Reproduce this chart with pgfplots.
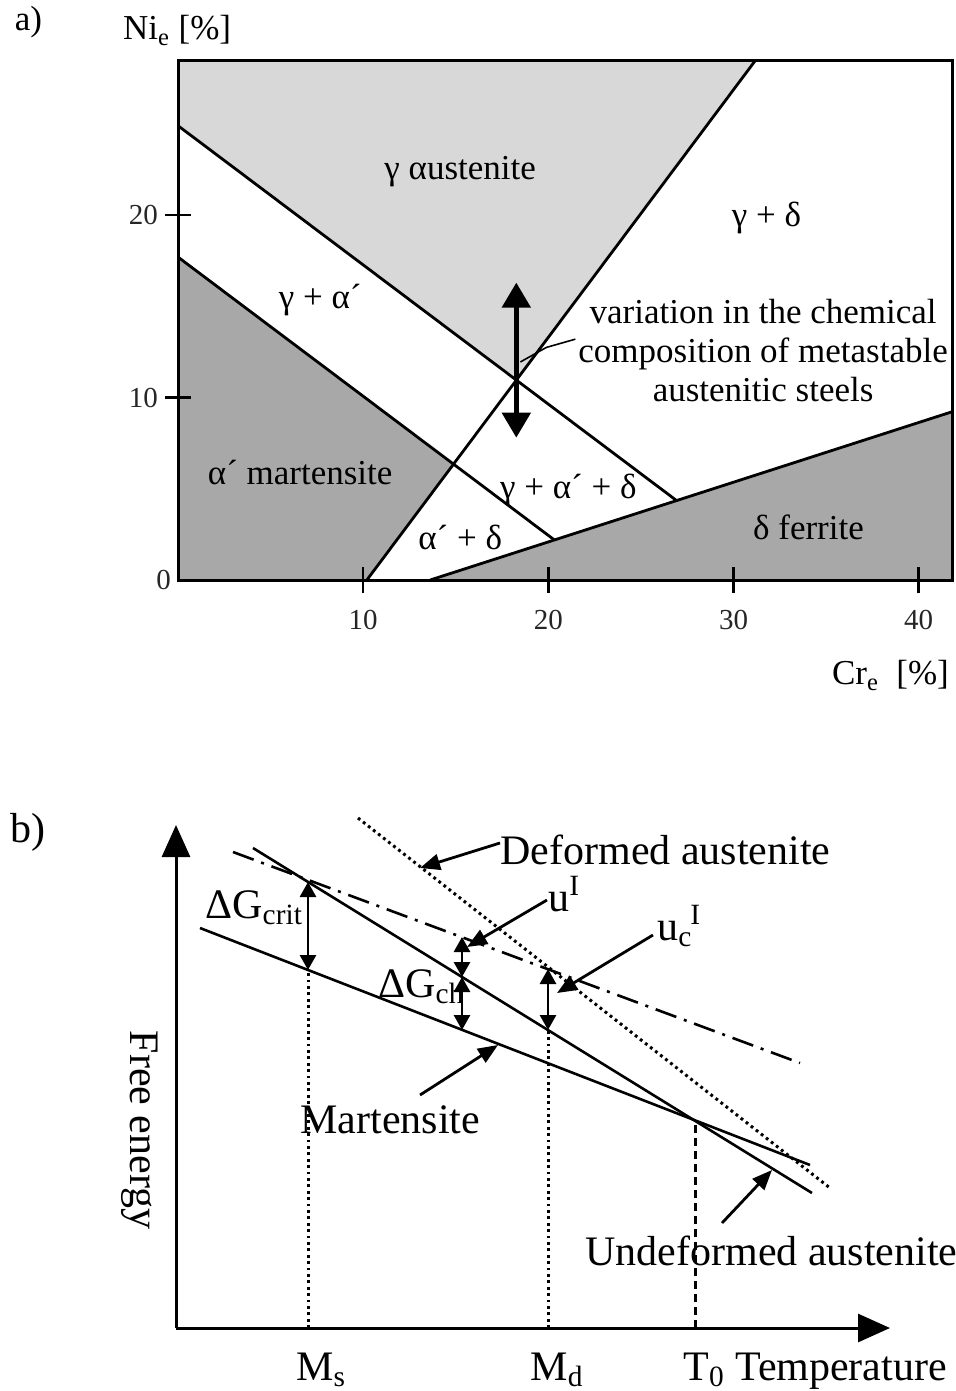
\documentclass[border=0pt]{standalone}
\usepackage{fontspec}
\setmainfont{Liberation Serif}
\usepackage{pgfplots}
\pgfplotsset{compat=1.18}
\usetikzlibrary{arrows.meta}
\definecolor{austregion}{RGB}{216,216,216}
\definecolor{darkregion}{RGB}{168,168,168}
\tikzset{
  lbl/.style={font=\fontsize{17.5}{19.5}\selectfont},
  txt/.style={font=\fontsize{21}{24}\selectfont},
  dbl/.style={line width=1.4pt, {Triangle[length=7.5pt,width=8pt]}-{Triangle[length=7.5pt,width=8pt]}},
  ptr/.style={line width=1.4pt, -{Triangle[length=10pt,width=8pt]}},
  dotl/.style={line width=1.5pt, dash pattern=on 1.4pt off 1.8pt},
}

\begin{document}
\begin{tikzpicture}
\useasboundingbox (0pt,0pt) rectangle (478pt,-695.5pt);

% ---------------- a) constitution diagram ----------------
\begin{axis}[
  at={(89pt,-290pt)}, anchor=south west,
  scale only axis, width=387pt, height=260pt,
  xmin=0, xmax=41.8, ymin=0, ymax=28.5,
  clip=false, axis on top,
  axis line style={line width=1.5pt},
  xtick={10,20,30,40}, ytick={10,20},
  xtick pos=bottom, ytick pos=left,
  extra y ticks={0}, extra y tick style={major tick length=0pt},
  tick align=center, major tick length=13pt,
  tick style={line width=1.3pt, black},
  /pgf/number format/assume math mode=true,
  tick label style={font=\fontsize{14.5}{16}\selectfont, text=black!85},
  xticklabel style={yshift=-5pt},
]
% phase fields
\addplot[fill=austregion, draw=none] coordinates {(0,28.5) (31.2,28.5) (18.27,10.96) (0,24.9)} -- cycle;
\addplot[fill=darkregion, draw=none] coordinates {(0,0) (0,17.7) (14.88,6.35) (10.2,0)} -- cycle;
\addplot[fill=darkregion, draw=none] coordinates {(13.62,0) (41.8,9.22) (41.8,0)} -- cycle;
% phase boundaries
\addplot[line width=1.4pt] coordinates {(0,24.9) (26.93,4.35)};
\addplot[line width=1.4pt] coordinates {(10.2,0) (31.2,28.5)};
\addplot[line width=1.4pt] coordinates {(0,17.7) (20.32,2.20)};
\addplot[line width=1.4pt] coordinates {(13.62,0) (41.8,9.22)};
% composition range of metastable steels
\addplot[line width=2.5pt, {Triangle[length=12.5pt,width=14pt]}-{Triangle[length=12.5pt,width=14pt]}]
  coordinates {(18.27,7.8) (18.27,16.3)};
\addplot[line width=0.8pt] coordinates {(18.49,11.95) (19.9,12.75) (21.46,13.2)};

\node[lbl] at (axis cs:15.24,22.36) {γ αustenite};
\node[lbl] at (axis cs:31.78,19.84) {γ + δ};
\node[lbl] at (axis cs:7.68,15.34) {γ + α´};
\node[lbl, align=center] at (axis cs:31.6,12.6)
  {variation in the chemical\\composition of metastable\\austenitic steels};
\node[lbl] at (axis cs:6.6,5.9) {α´ martensite};
\node[lbl] at (axis cs:21.08,4.93) {γ + α´ + δ};
\node[lbl] at (axis cs:15.24,2.36) {α´ + δ};
\node[lbl] at (axis cs:34.05,2.9) {δ ferrite};

\node[lbl, anchor=base west] at (axis cs:-3.35,29.6) {Ni\textsubscript{e}\ [\%]};
\node[lbl, anchor=base west, inner sep=0pt] at (axis cs:35.3,-5.75) {Cr\textsubscript{e}\ \ [\%]};
\node[lbl, anchor=base west] at (axis cs:-9.19,30.1) {a)};
\end{axis}

% ---------------- b) free energy vs temperature ----------------
\begin{axis}[
  at={(88pt,-664pt)}, anchor=south west,
  scale only axis, width=357pt, height=251.5pt,
  xmin=0, xmax=714, ymin=0, ymax=503,
  axis lines=left, clip=false,
  axis line style={line width=1.5pt, -{Triangle[length=16pt,width=14pt]}},
  xtick=\empty, ytick=\empty,
]
% free-energy curves
\addplot[line width=1.3pt] coordinates {(77,480) (636,135)};
\addplot[line width=1.3pt] coordinates {(24,400) (634,163)};
\addplot[line width=1.3pt, dash pattern=on 11pt off 4pt on 1.5pt off 4pt] coordinates {(57,476) (624,265)};
\addplot[dotl] coordinates {(182,510) (654,140)};
% characteristic temperatures
\addplot[dotl] coordinates {(132,0) (132,358)};
\addplot[dotl] coordinates {(372,0) (372,298)};
\addplot[line width=1.5pt, dash pattern=on 4pt off 2.5pt] coordinates {(519,0) (519,207)};
% energy differences
\addplot[dbl] coordinates {(132,446) (132,358)};
\addplot[dbl] coordinates {(286,391) (286,351)};
\addplot[dbl] coordinates {(286,351) (286,298)};
\addplot[dbl] coordinates {(372,359) (372,298)};
% label pointers
\addplot[ptr] coordinates {(324,485) (244,460)};
\addplot[ptr] coordinates {(371,428) (291,381)};
\addplot[ptr] coordinates {(477,393) (381,335)};
\addplot[ptr] coordinates {(244,233) (322,283)};
\addplot[ptr] coordinates {(546,105) (596,158)};

\node[txt, anchor=west, inner sep=0pt] at (axis cs:324,478) {Deformed austenite};
\node[txt, anchor=base west, inner sep=0pt] at (axis cs:372,417) {u\textsuperscript{I}};
\node[txt, anchor=base west, inner sep=0pt] at (axis cs:481,388) {u\textsubscript{c}\hspace{-0.05em}\textsuperscript{I}};
\node[txt, anchor=base west, inner sep=0pt] at (axis cs:29,410) {ΔG\textsubscript{crit}};
\node[txt, anchor=base west, inner sep=0pt] at (axis cs:202,331) {ΔG\textsubscript{ch}};
\node[txt, anchor=base west, inner sep=0pt] at (axis cs:124,195) {Martensite};
\node[txt, anchor=base west, inner sep=0pt] at (axis cs:409,63) {Undeformed austenite};
\node[txt, rotate=-90] at (axis cs:-36,198) {Free energy};
\node[txt, anchor=base west, inner sep=0pt] at (axis cs:120,-52) {M\textsubscript{s}};
\node[txt, anchor=base west, inner sep=0pt] at (axis cs:354,-52) {M\textsubscript{d}};
\node[txt, anchor=base west, inner sep=0pt] at (axis cs:507,-52) {T\textsubscript{0} Temperature};
\node[txt, anchor=base west, inner sep=0pt] at (axis cs:-166,486) {b)};
\end{axis}
\end{tikzpicture}
\end{document}
